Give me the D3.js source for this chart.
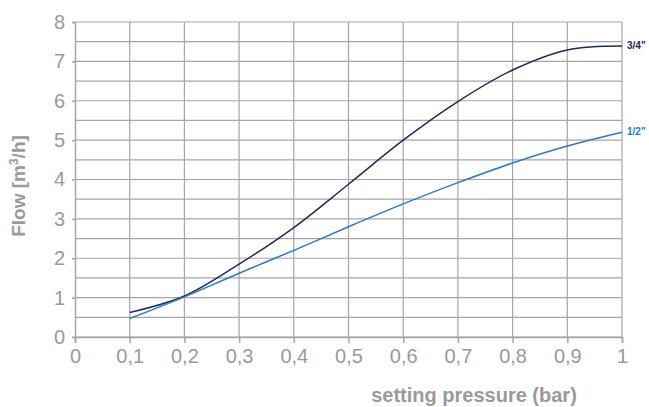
<!DOCTYPE html>
<html>
<head>
<meta charset="utf-8">
<script src="https://cdn.jsdelivr.net/npm/d3@7"></script>
<style>
  body { margin: 0; background: #fff; }
  svg text { font-family: "Liberation Sans", Arial, sans-serif; }
</style>
</head>
<body>
<svg id="chart" width="649" height="407"></svg>
<script>
var pressure = [0.1, 0.2, 0.3, 0.4, 0.5, 0.6, 0.7, 0.8, 0.9, 1.0];
var flow34 = [0.62, 1.04, 1.85, 2.78, 3.88, 5.0, 5.98, 6.78, 7.29, 7.39];
var flow12 = [0.47, 1.02, 1.62, 2.2, 2.8, 3.38, 3.92, 4.42, 4.85, 5.2];
var xTicks = [0, 0.1, 0.2, 0.3, 0.4, 0.5, 0.6, 0.7, 0.8, 0.9, 1];
var yTicks = [0, 1, 2, 3, 4, 5, 6, 7, 8];

var svg = d3.select("#chart");
var plotLeft = 75, plotRight = 622, plotTop = 22, plotBottom = 337;
var grey = "#a6a6a6", textGrey = "#9a9a9a";

var x = d3.scaleLinear().domain([0, 1]).range([plotLeft, plotRight]);
var y = d3.scaleLinear().domain([0, 8]).range([plotBottom, plotTop]);

// grid
var halfSteps = d3.range(0.5, 8, 1);
svg.append("g").selectAll("line").data(yTicks.concat(halfSteps)).enter().append("line")
  .attr("x1", plotLeft).attr("x2", plotRight)
  .attr("y1", d => y(d)).attr("y2", d => y(d))
  .attr("stroke", grey).attr("stroke-width", 1.2);
svg.append("g").selectAll("line").data(xTicks.slice(1)).enter().append("line")
  .attr("x1", d => x(d)).attr("x2", d => x(d))
  .attr("y1", plotTop).attr("y2", plotBottom)
  .attr("stroke", grey).attr("stroke-width", 1.2);

// axes
var xAxis = svg.append("g").attr("transform", "translate(0," + plotBottom + ")")
  .call(d3.axisBottom(x).tickValues(xTicks).tickSize(6).tickPadding(6)
    .tickFormat(d => d3.format("")(d).replace(".", ",")));
var yAxis = svg.append("g").attr("transform", "translate(" + plotLeft + ",0)")
  .call(d3.axisLeft(y).tickValues(yTicks).tickSize(3).tickPadding(7));
[xAxis, yAxis].forEach(function(a) {
  a.attr("font-size", null).attr("font-family", null);
  a.select(".domain").attr("stroke", grey).attr("stroke-width", 1.5);
  a.selectAll(".tick line").attr("stroke", grey).attr("stroke-width", 1.5);
  a.selectAll(".tick text").attr("fill", textGrey).style("font-size", "20px");
});

// lines
var line = d3.line().x(d => x(d[0])).y(d => y(d[1])).curve(d3.curveCatmullRom.alpha(0.5));
var series = [
  { name: '3/4"', values: flow34, color: "#1b2d55" },
  { name: '1/2"', values: flow12, color: "#2f78c2" }
];
series.forEach(function(s) {
  var pts = pressure.map((p, i) => [p, s.values[i]]);
  svg.append("path").datum(pts)
    .attr("d", line).attr("fill", "none")
    .attr("stroke", s.color).attr("stroke-width", 1.5);
  svg.append("text")
    .attr("x", x(1) + 5).attr("y", y(s.values[s.values.length - 1]) + 3)
    .attr("fill", s.color).style("font-size", "10px").style("font-weight", "bold")
    .text(s.name);
});

// titles
svg.append("text")
  .attr("x", 474).attr("y", 402).attr("text-anchor", "middle")
  .attr("fill", textGrey).style("font-size", "20px").style("font-weight", "bold")
  .text("setting pressure (bar)");
var yt = svg.append("text")
  .attr("transform", "translate(25,186) rotate(-90)").attr("text-anchor", "middle")
  .attr("fill", textGrey).style("font-size", "19px").style("font-weight", "bold");
yt.append("tspan").text("Flow [m");
yt.append("tspan").attr("dy", -7).style("font-size", "12px").text("3");
yt.append("tspan").attr("dy", 7).text("/h]");
</script>
</body>
</html>
